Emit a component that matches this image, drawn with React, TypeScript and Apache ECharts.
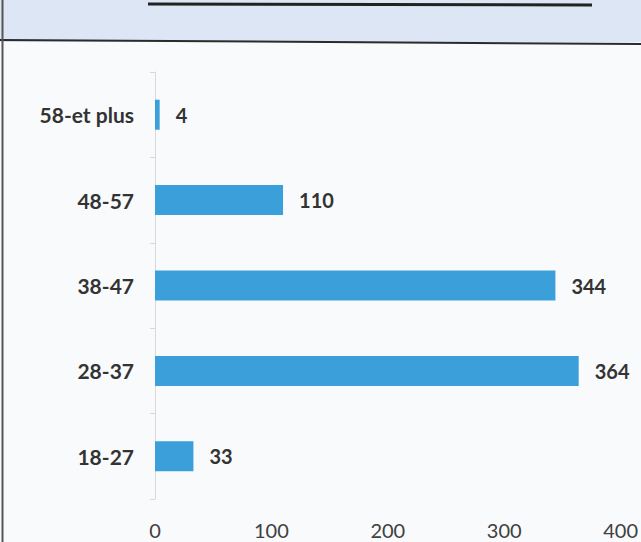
import React, { useEffect, useRef } from "react";
import * as echarts from "echarts";

const categories = ["18-27", "28-37", "38-47", "48-57", "58-et plus"];
const values = [33, 364, 344, 110, 4];
const xTicks = [0, 100, 200, 300, 400];

export default function App() {
  const ref = useRef<HTMLDivElement>(null);
  useEffect(() => {
    if (!ref.current) return;
    const chart = echarts.init(ref.current, null, { renderer: "svg" });
    chart.setOption({
      animation: false,
      backgroundColor: "#f9fafc",
      graphic: [
        { type: "rect", shape: { x: 0, y: 0, width: 641, height: 42 }, style: { fill: "#dce6f4" }, z: -10 },
        { type: "line", shape: { x1: 0, y1: 40, x2: 641, y2: 44 }, style: { stroke: "#2b2b2b", lineWidth: 2 } },
        { type: "line", shape: { x1: 148, y1: 4, x2: 592, y2: 5 }, style: { stroke: "#222", lineWidth: 3 } },
        { type: "line", shape: { x1: 2.5, y1: 0, x2: 2.5, y2: 542 }, style: { stroke: "#555", lineWidth: 2 } },
      ],
      grid: { left: 155, right: 19, top: 72, bottom: 43, containLabel: false },
      xAxis: {
        type: "value",
        min: xTicks[0],
        max: xTicks[xTicks.length - 1],
        interval: 100,
        axisLine: { show: false },
        axisTick: { show: false },
        splitLine: { show: false },
        axisLabel: { color: "#404040", fontSize: 20, fontFamily: "Lato", margin: 21 },
      },
      yAxis: {
        type: "category",
        data: categories,
        axisLine: { show: true, lineStyle: { color: "#d9d9d9", width: 1 } },
        axisTick: { show: true, length: 5, lineStyle: { color: "#d9d9d9" } },
        axisLabel: { color: "#333", fontSize: 21, fontWeight: "bold", fontFamily: "Lato", margin: 21 },
      },
      series: [
        {
          type: "bar",
          data: values,
          barWidth: 30,
          itemStyle: { color: "#3b9fd9" },
          label: {
            show: true,
            position: "right",
            distance: 16,
            color: "#333",
            fontSize: 20,
            fontWeight: "bold",
            fontFamily: "Lato",
          },
        },
      ],
    });
    return () => chart.dispose();
  }, []);
  return <div ref={ref} style={{ position: "fixed", left: 0, top: 0, width: 641, height: 542 }} />;
}
